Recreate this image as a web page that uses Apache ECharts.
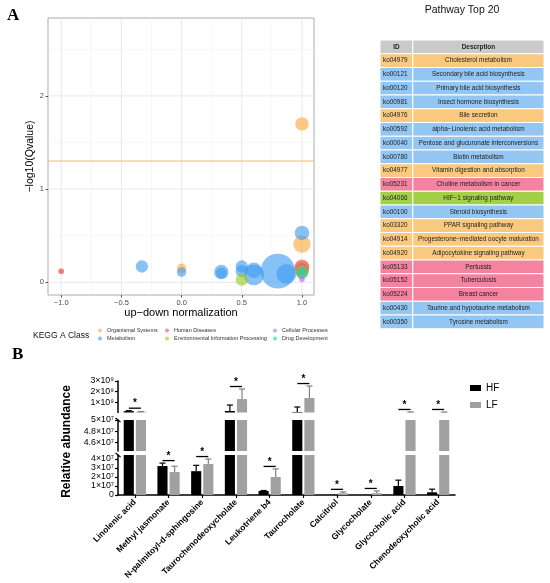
<!DOCTYPE html>
<html><head><meta charset="utf-8">
<script src="https://cdn.jsdelivr.net/npm/echarts@6/dist/echarts.min.js"></script>
<style>html,body{margin:0;padding:0;background:#fff}#c{width:550px;height:583px}</style>
</head><body><div id="c"></div>
<script>
// ---------- Panel A : KEGG bubble plot ----------
const keggClasses = ['Organismal Systems','Metabolism','Human Diseases','Environmental Information Processing','Cellular Processes','Drug Development'];
// [up-down normalization, -log10(Qvalue), metabolite count]
const organismalPts   = [[1.0,1.70,6],[1.0,0.41,10],[0.0,0.15,3],[1.0,0.17,7],[-1.0,0.12,1],[1.0,0.14,4]];
const metabolismPts   = [[1.0,0.53,7],[-0.33,0.17,5],[0.0,0.11,3],[0.33,0.11,7],[0.33,0.10,4],[0.5,0.17,5],[0.5,0.12,5],[0.6,0.13,8],[0.6,0.08,14],[0.8,0.12,40],[0.87,0.09,13],[1.0,0.10,5],[1.0,0.13,6]];
const humanDiseasePts = [[-1.0,0.12,1],[1.0,0.16,7],[1.0,0.14,5]];
const environmentalPts= [[0.5,0.03,5],[1.0,0.12,6]];
const cellularPts     = [[1.0,0.03,1]];
const drugPts         = [[1.0,0.11,3]];
const qThreshold = 1.301;
const xRangeA = [-1.11, 1.10];
const yRangeA = [-0.136, 2.836];
const xTicksA = [-1,-0.5,0,0.5,1];
const xMinorA = [-0.75,-0.25,0.25,0.75];
const yTicksA = [0,1,2];
const yMinorA = [0.5,1.5,2.5];

// ---------- Pathway table ----------
const pathwayIds = ['ko04979','ko00121','ko00120','ko00981','ko04976','ko00592','ko00040','ko00780','ko04977','ko05231','ko04066','ko00100','ko03320','ko04914','ko04920','ko05133','ko05152','ko05224','ko00430','ko00350'];
const pathwayDescs = ['Cholesterol metabolism','Secondary bile acid biosynthesis','Primary bile acid biosynthesis','Insect hormone biosynthesis','Bile secretion','alpha\u2212Linolenic acid metabolism','Pentose and glucuronate interconversions','Biotin metabolism','Vitamin digestion and absorption','Choline metabolism in cancer','HIF\u22121 signaling pathway','Steroid biosynthesis','PPAR signaling pathway','Progesterone\u2212mediated oocyte maturation','Adipocytokine signaling pathway','Pertussis','Tuberculosis','Breast cancer','Taurine and hypotaurine metabolism','Tyrosine metabolism'];
const pathwayClass = ['Organismal Systems','Metabolism','Metabolism','Metabolism','Organismal Systems','Metabolism','Metabolism','Metabolism','Organismal Systems','Human Diseases','Environmental Information Processing','Metabolism','Organismal Systems','Organismal Systems','Organismal Systems','Human Diseases','Human Diseases','Human Diseases','Metabolism','Metabolism'];
const tableHeader = ['ID','Descrption'];

// ---------- Panel B : relative abundance ----------
const metabolites = ['Linolenic acid','Methyl jasmonate','N-palmitoyl-d-sphingosine','Taurochenodeoxycholate','Leukotriene b4','Taurocholate','Calcitriol','Glycocholate','Glycocholic acid','Chenodeoxycholic acid'];
const hfMean = [1.8e8, 3.22e7, 2.65e7, 1.9e8, 0.45e7, 1.0e8, 0.02e7, 0.02e7, 1.0e7, 0.3e7];
const hfSD   = [0.4e8, 0.33e7, 0.65e7, 5.6e8, 0.05e7, 4.65e8, 0, 0, 0.65e7, 0.35e7];
const lfMean = [1.2e8, 2.55e7, 3.45e7, 1.31e9, 2.0e7, 1.41e9, 0.2e7, 0.2e7, 7e7, 7e7];
const lfSD   = [0.2e8, 0.65e7, 0.55e7, 0.94e9, 0.9e7, 1.12e9, 0.15e7, 0.25e7, 3e7, 3e7];
const botRange = [0, 4.45e7], midRange = [4.45e7, 5e7], topRange = [5e7, 3e9];
const botTicks = [0,1e7,2e7,3e7,4e7], botTickLabels = ['0','1\u00d710\u2077','2\u00d710\u2077','3\u00d710\u2077','4\u00d710\u2077'];
const midTicks = [4.6e7,4.8e7,5e7],    midTickLabels = ['4.6\u00d710\u2077','4.8\u00d710\u2077','5\u00d710\u2077'];
const topTicks = [1e9,2e9,3e9],        topTickLabels = ['1\u00d710\u2079','2\u00d710\u2079','3\u00d710\u2079'];

// ---------- styles ----------
const classColor = {
  'Organismal Systems':'#FBA93A','Metabolism':'#3E9BF0','Human Diseases':'#F0487A',
  'Environmental Information Processing':'#98C91E','Cellular Processes':'#C266F2','Drug Development':'#16D8C0'};
const tableFill = {
  'Organismal Systems':'#F9C97F','Metabolism':'#93C6F3','Human Diseases':'#F4839F',
  'Environmental Information Processing':'#A4CF48'};
const headerFill = '#CACACA';
const font = 'Liberation Sans, Arial, Helvetica, sans-serif';

const chart = echarts.init(document.getElementById('c'), null, {renderer:'canvas'});

const classPts = [organismalPts, metabolismPts, humanDiseasePts, environmentalPts, cellularPts, drugPts];
const scatterSeries = keggClasses.map((name, k) => ({
  name, type:'scatter', xAxisIndex:0, yAxisIndex:0, z:4,
  data: classPts[k],
  symbolSize: d => 5.5*Math.sqrt(d[2]),
  itemStyle:{color:classColor[name], opacity:0.62},
  emphasis:{disabled:true}
}));

// panel gridlines and threshold as line series through the axes
function hLine(v, color, width, z){
  return {type:'line', xAxisIndex:0, yAxisIndex:0, data:[[xRangeA[0],v],[xRangeA[1],v]], symbol:'none', z:z, silent:true,
    lineStyle:{color, width}, itemStyle:{color}, emphasis:{disabled:true}};
}
function vLine(v, color, width){
  return {type:'line', xAxisIndex:0, yAxisIndex:0, data:[[v,yRangeA[0]],[v,yRangeA[1]]], symbol:'none', z:1, silent:true,
    lineStyle:{color, width}, itemStyle:{color}, emphasis:{disabled:true}};
}
const gridLineSeries = [
  ...yTicksA.map(v=>hLine(v,'#E8E8E8',1,1)), ...yMinorA.map(v=>hLine(v,'#F2F2F2',0.6,1)),
  ...xTicksA.map(v=>vLine(v,'#E8E8E8',1)), ...xMinorA.map(v=>vLine(v,'#F2F2F2',0.6))
];
const thresholdSeries = hLine(qThreshold, '#F9B955', 1, 3);

// table (custom series on category axis)
const idColFrac = 0.2;
const tableSeries = {
  type:'custom', xAxisIndex:1, yAxisIndex:1, silent:true,
  data: [0].concat(pathwayIds.map((_,i)=>i+1)).map(i=>[0,i]),
  renderItem: function(params, api){
    const i = api.value(1);
    const p0 = api.coord([0,i]), p1 = api.coord([1,i]);
    const xs = api.coord([idColFrac,i])[0];
    const h = api.size([0,1])[1];
    const top = p0[1]-h/2;
    const hdr = i===0;
    const fill = hdr ? headerFill : tableFill[pathwayClass[i-1]];
    const idT = hdr ? tableHeader[0] : pathwayIds[i-1];
    const dT = hdr ? tableHeader[1] : pathwayDescs[i-1];
    const ts = {fontSize:6.4, fontFamily:font, fontWeight: hdr?'bold':'normal', fill:'#1E1E1E'};
    return {type:'group', children:[
      {type:'rect', shape:{x:p0[0], y:top, width:xs-p0[0], height:h}, style:{fill, stroke:'#fff', lineWidth:1}},
      {type:'rect', shape:{x:xs, y:top, width:p1[0]-xs, height:h}, style:{fill, stroke:'#fff', lineWidth:1}},
      {type:'text', style:Object.assign({x: hdr?(p0[0]+xs)/2:p0[0]+3, y:p0[1], text:idT, align: hdr?'center':'left', verticalAlign:'middle'}, ts)},
      {type:'text', style:Object.assign({x:(xs+p1[0])/2, y:p0[1], text:dT, align:'center', verticalAlign:'middle'}, ts)}
    ]};
  }
};

// bars in three broken-axis segments
function segOf(v){ return v > midRange[1] ? 'top' : (v > botRange[1] ? 'mid' : 'bot'); }
const segs = [
  {key:'top', axis:2, min:topRange[0]},
  {key:'mid', axis:3, min:midRange[0]},
  {key:'bot', axis:4, min:-1}
];
const barSeries = [];
segs.forEach(s=>{
  barSeries.push({name:'HF', type:'bar', xAxisIndex:s.axis, yAxisIndex:s.axis, barWidth:'30%', barGap:'20%',
    itemStyle:{color:'#000'}, data: hfMean.map(v=> v > s.min ? v : '-'), silent:true, animation:false});
  barSeries.push({name:'LF', type:'bar', xAxisIndex:s.axis, yAxisIndex:s.axis, barWidth:'30%', barGap:'20%',
    itemStyle:{color:'#A0A0A0'}, data: lfMean.map(v=> v > s.min ? v : '-'), silent:true, animation:false});
  barSeries.push({type:'custom', xAxisIndex:s.axis, yAxisIndex:s.axis, clip:false, z:5, silent:true,
    data: metabolites.map((m,i)=>[i,0]),
    renderItem: function(params, api){
      const i = params.dataIndex;
      const cx = api.coord([i,0])[0];
      const band = api.size([1,0])[0];
      const bw = band*0.3, off = bw*0.6, cw = bw*0.3;
      const ch = [];
      [[hfMean[i],hfSD[i],-off,'#000'],[lfMean[i],lfSD[i],off,'#808080']].forEach(g=>{
        const m=g[0], sd=g[1], x=cx+g[2], c=g[3];
        if (sd>0 && segOf(m)===s.key){
          const y0=api.coord([i,m])[1], y1=api.coord([i,m+sd])[1];
          ch.push({type:'line', shape:{x1:x,y1:y0,x2:x,y2:y1}, style:{stroke:c, lineWidth:1.2}});
          ch.push({type:'line', shape:{x1:x-cw,y1:y1,x2:x+cw,y2:y1}, style:{stroke:c, lineWidth:1.2}});
        }
      });
      const topV = Math.max(hfMean[i]+hfSD[i], lfMean[i]+lfSD[i]);
      if (segOf(topV)===s.key){
        const yt = api.coord([i,topV])[1]-2.5;
        ch.push({type:'line', shape:{x1:cx-off,y1:yt,x2:cx+off,y2:yt}, style:{stroke:'#000', lineWidth:1.3}});
        ch.push({type:'text', style:{x:cx, y:yt-4.5, text:'*', align:'center', verticalAlign:'middle', fontSize:10, fontWeight:'bold', fontFamily:font, fill:'#000'}});
      }
      if (i===0 && s.key!=='top'){
        const ax = cx - band/2;
        const yb = api.coord([i, s.key==='mid'?midRange[1]:botRange[1]])[1];
        ch.push({type:'line', shape:{x1:ax-2.5,y1:yb-2,x2:ax+2.5,y2:yb+2}, style:{stroke:'#000', lineWidth:1.3}});
      }
      return {type:'group', children:ch};
    }});
});

function tickLabelFmt(vals, labels){ return v => { const k = vals.findIndex(t=>Math.abs(t-v) < 1e-6*Math.max(1,Math.abs(t))); return k>=0 ? labels[k] : ''; }; }
function barY(idx, range, ticks, labels, extra){
  return Object.assign({type:'value', gridIndex:idx, min:range[0], max:range[1], splitLine:{show:false},
    axisLine:{show:true, onZero:false, lineStyle:{color:'#000', width:1.5}},
    axisTick:{show:true, length:3, customValues:ticks, lineStyle:{color:'#000', width:1.2}},
    axisLabel:{customValues:ticks, formatter:tickLabelFmt(ticks, labels), fontSize:8.8, color:'#000', margin:4, fontFamily:font}
  }, extra||{});
}
function barX(idx, show){
  return {type:'category', gridIndex:idx, data:metabolites, show:show,
    axisLine:{show:show, lineStyle:{color:'#000', width:1.5}},
    axisTick:{show:show, alignWithLabel:true, length:3, lineStyle:{color:'#000', width:1.2}},
    axisLabel:{show:show, rotate:45, interval:0, fontSize:8.5, fontWeight:'bold', color:'#000', margin:6, fontFamily:font}};
}

const option = {
  animation:false,
  textStyle:{fontFamily:font},
  title:[
    {text:'A', left:7, top:7, padding:0, textStyle:{fontFamily:'Liberation Serif, DejaVu Serif, serif', fontWeight:'bold', fontSize:17, color:'#000'}},
    {text:'B', left:12, top:346, padding:0, textStyle:{fontFamily:'Liberation Serif, DejaVu Serif, serif', fontWeight:'bold', fontSize:17, color:'#000'}},
    {text:'Pathway Top 20', left:462, top:5, padding:0, textAlign:'center', textStyle:{fontSize:10.5, fontWeight:'normal', color:'#111'}},
    {text:'KEGG A Class', left:33, top:331, padding:0, textStyle:{fontSize:8.5, fontWeight:'normal', color:'#111'}}
  ],
  legend:[
    {data:['Organismal Systems','Metabolism'], orient:'vertical', left:98, top:327.5, padding:0, itemGap:2, itemWidth:4, itemHeight:4, icon:'circle', textStyle:{fontSize:5.5, color:'#333'}, selectedMode:false},
    {data:['Human Diseases','Environmental Information Processing'], orient:'vertical', left:165, top:327.5, padding:0, itemGap:2, itemWidth:4, itemHeight:4, icon:'circle', textStyle:{fontSize:5.5, color:'#333'}, selectedMode:false},
    {data:['Cellular Processes','Drug Development'], orient:'vertical', left:273, top:327.5, padding:0, itemGap:2, itemWidth:4, itemHeight:4, icon:'circle', textStyle:{fontSize:5.5, color:'#333'}, selectedMode:false},
    {data:['HF','LF'], orient:'vertical', left:470, top:383, padding:0, itemGap:7, itemWidth:11, itemHeight:6, icon:'rect', textStyle:{fontSize:10, color:'#000'}, selectedMode:false}
  ],
  grid:[
    {left:48, top:18, width:266, height:277, show:true, borderColor:'#ABABAB', borderWidth:1, backgroundColor:'#fff'},
    {left:380, top:40, width:164, height:288.75},
    {left:118, top:381, width:337, height:31.5},
    {left:118, top:420, width:337, height:31},
    {left:118, top:455, width:337, height:40}
  ],
  xAxis:[
    {type:'value', gridIndex:0, min:xRangeA[0], max:xRangeA[1], splitLine:{show:false},
      axisLine:{show:false, onZero:false},
      axisTick:{show:true, length:2.5, customValues:xTicksA, lineStyle:{color:'#555'}},
      axisLabel:{customValues:xTicksA, formatter:v=>v.toFixed(1).replace('-','\u2212'), fontSize:7.5, color:'#4D4D4D', margin:4},
      name:'up\u2212down normalization', nameLocation:'middle', nameGap:11, nameTextStyle:{fontSize:11, color:'#000'}},
    {type:'value', gridIndex:1, min:0, max:1, show:false},
    barX(2,false), barX(3,false), barX(4,true)
  ],
  yAxis:[
    {type:'value', gridIndex:0, min:yRangeA[0], max:yRangeA[1], splitLine:{show:false},
      axisLine:{show:false, onZero:false},
      axisTick:{show:true, length:2.5, customValues:yTicksA, lineStyle:{color:'#555'}},
      axisLabel:{customValues:yTicksA, formatter:v=>String(v), fontSize:7.5, color:'#4D4D4D', margin:4},
      name:'\u2212log10(Qvalue)', nameLocation:'middle', nameRotate:90, nameGap:10, nameTextStyle:{fontSize:10.5, color:'#000'}},
    {type:'category', gridIndex:1, inverse:true, data:['hdr'].concat(pathwayIds), show:false},
    barY(2, topRange, topTicks, topTickLabels),
    barY(3, midRange, midTicks, midTickLabels, {name:'Relative abundance', nameLocation:'middle', nameRotate:90, nameGap:36, nameTextStyle:{fontSize:12, fontWeight:'bold', color:'#000', padding:[0,12,0,0]}}),
    barY(4, botRange, botTicks, botTickLabels)
  ],
  series:gridLineSeries.concat([thresholdSeries], scatterSeries, [tableSeries], barSeries)
};
chart.setOption(option);
</script></body></html>
